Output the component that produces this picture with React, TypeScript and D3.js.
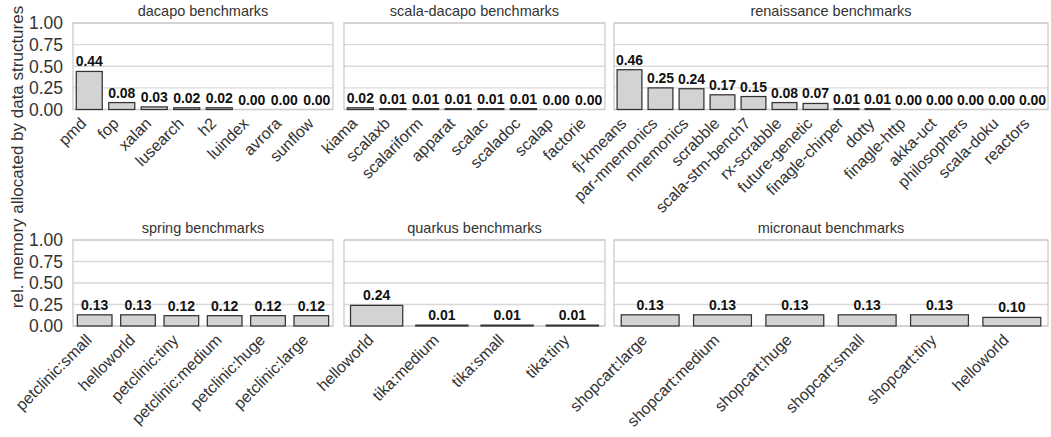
import React from "react";
import * as d3 from "d3";

const dacapoNames = ["pmd", "fop", "xalan", "lusearch", "h2", "luindex", "avrora", "sunflow"];
const dacapoValues = [0.44, 0.08, 0.03, 0.02, 0.02, 0.0, 0.0, 0.0];

const scalaNames = ["kiama", "scalaxb", "scalariform", "apparat", "scalac", "scaladoc", "scalap", "factorie"];
const scalaValues = [0.02, 0.01, 0.01, 0.01, 0.01, 0.01, 0.0, 0.0];

const renNames = ["fj-kmeans", "par-mnemonics", "mnemonics", "scrabble", "scala-stm-bench7", "rx-scrabble", "future-genetic", "finagle-chirper", "dotty", "finagle-http", "akka-uct", "philosophers", "scala-doku", "reactors"];
const renValues = [0.46, 0.25, 0.24, 0.17, 0.15, 0.08, 0.07, 0.01, 0.01, 0.0, 0.0, 0.0, 0.0, 0.0];

const springNames = ["petclinic:small", "helloworld", "petclinic:tiny", "petclinic:medium", "petclinic:huge", "petclinic:large"];
const springValues = [0.13, 0.13, 0.12, 0.12, 0.12, 0.12];

const quarkusNames = ["helloworld", "tika:medium", "tika:small", "tika:tiny"];
const quarkusValues = [0.24, 0.01, 0.01, 0.01];

const micronautNames = ["shopcart:large", "shopcart:medium", "shopcart:huge", "shopcart:small", "shopcart:tiny", "helloworld"];
const micronautValues = [0.13, 0.13, 0.13, 0.13, 0.13, 0.1];

const yTicks = [0, 0.25, 0.5, 0.75, 1.0];
const yLabel = "rel. memory allocated by data structures";

const FONT = "Liberation Sans";

type PanelSpec = {
  title: string;
  names: string[];
  values: number[];
  x0: number;
  x1: number;
  y0: number;
  y1: number;
  showY: boolean;
};

const cols = [
  [73, 333],
  [344, 605],
  [614, 1048],
];
const rows = [
  [23, 109.5],
  [240, 326],
];

const panels: PanelSpec[] = [
  { title: "dacapo benchmarks", names: dacapoNames, values: dacapoValues, x0: cols[0][0], x1: cols[0][1], y0: rows[0][0], y1: rows[0][1], showY: true },
  { title: "scala-dacapo benchmarks", names: scalaNames, values: scalaValues, x0: cols[1][0], x1: cols[1][1], y0: rows[0][0], y1: rows[0][1], showY: false },
  { title: "renaissance benchmarks", names: renNames, values: renValues, x0: cols[2][0], x1: cols[2][1], y0: rows[0][0], y1: rows[0][1], showY: false },
  { title: "spring benchmarks", names: springNames, values: springValues, x0: cols[0][0], x1: cols[0][1], y0: rows[1][0], y1: rows[1][1], showY: true },
  { title: "quarkus benchmarks", names: quarkusNames, values: quarkusValues, x0: cols[1][0], x1: cols[1][1], y0: rows[1][0], y1: rows[1][1], showY: false },
  { title: "micronaut benchmarks", names: micronautNames, values: micronautValues, x0: cols[2][0], x1: cols[2][1], y0: rows[1][0], y1: rows[1][1], showY: false },
];

function Panel({ p }: { p: PanelSpec }) {
  const x = d3.scaleBand<string>().domain(p.names).range([p.x0, p.x1]).paddingInner(0.2).paddingOuter(0.1);
  const y = d3.scaleLinear().domain([0, 1]).range([p.y1, p.y0]);
  return (
    <g>
      {yTicks.map((t) => (
        <line key={"g" + t} x1={p.x0} x2={p.x1} y1={y(t)} y2={y(t)} stroke="#d9d9d9" strokeWidth={1.3} />
      ))}
      <rect x={p.x0} y={p.y0} width={p.x1 - p.x0} height={p.y1 - p.y0} fill="none" stroke="#cccccc" strokeWidth={1.3} />
      {p.showY &&
        yTicks.map((t) => (
          <text key={"t" + t} x={p.x0 - 10} y={y(t)} dy="0.36em" textAnchor="end" fontSize={17.5} fill="#333" fontFamily={FONT}>
            {t.toFixed(2)}
          </text>
        ))}
      <text x={(p.x0 + p.x1) / 2} y={p.y0 - 7} textAnchor="middle" fontSize={14.5} fill="#333" fontFamily={FONT}>
        {p.title}
      </text>
      {p.names.map((n, i) => {
        const v = p.values[i];
        const bx = x(n)!;
        const bw = x.bandwidth();
        return (
          <g key={n + i}>
            <rect x={bx} y={y(v)} width={bw} height={Math.max(0, y(0) - y(v))} fill="#d3d3d3" stroke="#333" strokeWidth={1.25} />
            <text x={bx + bw / 2} y={y(v) - 5} textAnchor="middle" fontSize={14} fontWeight="bold" fill="#111" fontFamily={FONT}>
              {v.toFixed(2)}
            </text>
            <text
              transform={`translate(${bx + bw / 2 - 2},${p.y1 + 15}) rotate(-45)`}
              textAnchor="end"
              fontSize={16}
              fill="#333"
              fontFamily={FONT}
            >
              {n}
            </text>
          </g>
        );
      })}
    </g>
  );
}

export default function App() {
  return (
    <svg width={1051} height={437} style={{ display: "block", position: "absolute", left: 0, top: 0, background: "#fff" }}>
      <rect x={0} y={0} width={1051} height={437} fill="#fff" />
      {panels.map((p) => (
        <Panel key={p.title} p={p} />
      ))}
      <text transform={`translate(17,157) rotate(-90)`} textAnchor="middle" dy="0.35em" fontSize={17} fill="#333" fontFamily={FONT}>
        {yLabel}
      </text>
    </svg>
  );
}
